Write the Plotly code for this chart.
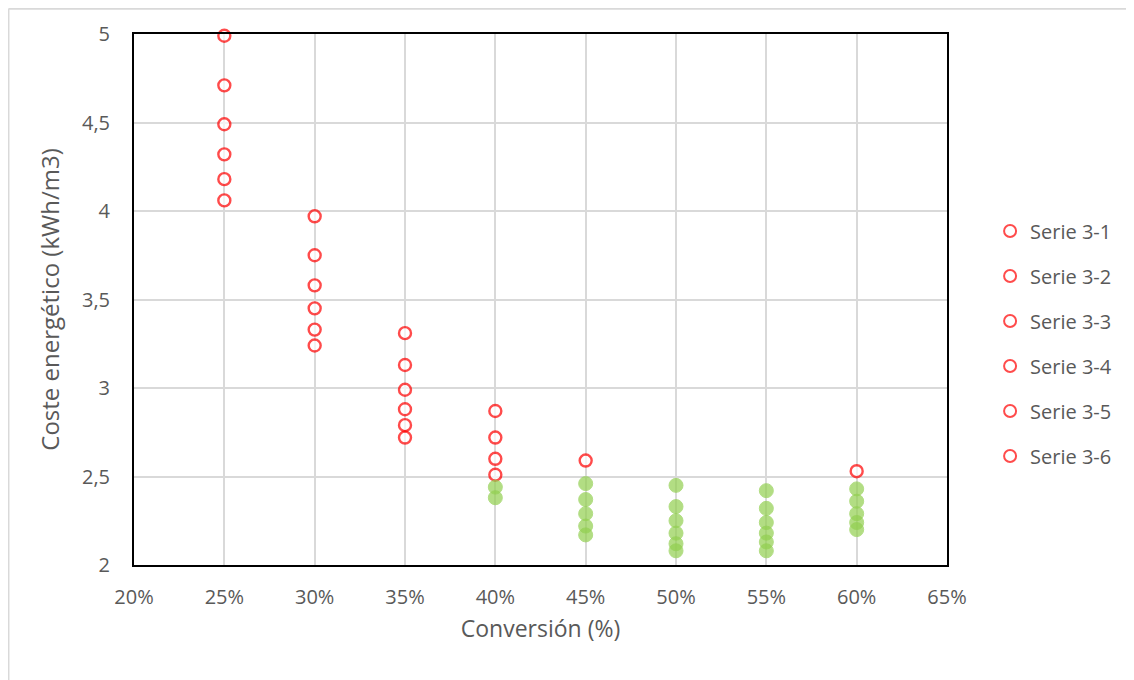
import plotly.graph_objects as go

conversion = [0.25, 0.30, 0.35, 0.40, 0.45, 0.50, 0.55, 0.60]
series_names = ["Serie 3-1", "Serie 3-2", "Serie 3-3", "Serie 3-4", "Serie 3-5", "Serie 3-6"]
serie_3_1 = [4.99, 3.97, 3.31, 2.87, 2.59, 2.45, 2.42, 2.53]
serie_3_2 = [4.71, 3.75, 3.13, 2.72, 2.46, 2.33, 2.32, 2.43]
serie_3_3 = [4.49, 3.58, 2.99, 2.60, 2.37, 2.25, 2.24, 2.36]
serie_3_4 = [4.32, 3.45, 2.88, 2.51, 2.29, 2.18, 2.18, 2.29]
serie_3_5 = [4.18, 3.33, 2.79, 2.44, 2.22, 2.12, 2.13, 2.24]
serie_3_6 = [4.06, 3.24, 2.72, 2.38, 2.17, 2.08, 2.08, 2.20]
all_series = [serie_3_1, serie_3_2, serie_3_3, serie_3_4, serie_3_5, serie_3_6]

y_ticks = [2, 2.5, 3, 3.5, 4, 4.5, 5]
x_ticks = [0.20, 0.25, 0.30, 0.35, 0.40, 0.45, 0.50, 0.55, 0.60, 0.65]
green_limit = 2.5

RED = "#FF0000"
GREEN = "#92D050"
TXT = "#595959"
FONT = "'Open Sans', sans-serif"

fig = go.Figure()
for i, (name, vals) in enumerate(zip(series_names, all_series)):
    fill = [GREEN if v < green_limit else "white" for v in vals]
    edge = [GREEN if v < green_limit else RED for v in vals]
    sizes = [14 if v < green_limit else 12 for v in vals]
    widths = [1 if v < green_limit else 2.4 for v in vals]
    fig.add_trace(go.Scatter(
        x=conversion, y=vals, mode="markers", name=name,
        legendgroup=f"g{i}",
        marker=dict(symbol="circle", size=sizes, color=fill,
                    line=dict(color=edge, width=widths)),
        cliponaxis=False,
    ))

fig.update_layout(
    width=1126, height=672,
    paper_bgcolor="white", plot_bgcolor="white",
    separators=",.",
    font=dict(family=FONT, color=TXT, size=20),
    margin=dict(l=126, r=187, t=26, b=115, autoexpand=False),
    showlegend=True,
    legend=dict(x=1.053, y=0.417, xanchor="left", yanchor="middle",
                font=dict(size=20, color=TXT, family=FONT),
                tracegroupgap=16, itemsizing="constant",
                bgcolor="rgba(0,0,0,0)"),
    xaxis=dict(range=[0.20, 0.65], tickvals=x_ticks, tickformat=".0%",
               showgrid=True, gridcolor="#D9D9D9", gridwidth=2,
               showline=True, linecolor="black", linewidth=2, mirror=True,
               zeroline=False, ticks="", ticklen=0, ticklabelstandoff=13,
               tickfont=dict(size=20, color=TXT),
               title=dict(text="Conversión (%)", font=dict(size=23, color=TXT), standoff=12)),
    yaxis=dict(range=[2, 5], tickvals=y_ticks,
               showgrid=True, gridcolor="#D9D9D9", gridwidth=2,
               showline=True, linecolor="black", linewidth=2, mirror=True,
               zeroline=False, ticks="", ticklen=0, ticklabelstandoff=18,
               tickfont=dict(size=20, color=TXT),
               title=dict(text="Coste energético (kWh/m3)", font=dict(size=24, color=TXT), standoff=16)),
    shapes=[
        dict(type="line", xref="paper", yref="paper", x0=-0.1544, x1=1.25, y0=1.0475, y1=1.0475,
             line=dict(color="#D9D9D9", width=2)),
        dict(type="line", xref="paper", yref="paper", x0=-0.1544, x1=-0.1544, y0=1.0475, y1=-0.25,
             line=dict(color="#D9D9D9", width=2)),
    ],
)

fig.write_html("out.html")
